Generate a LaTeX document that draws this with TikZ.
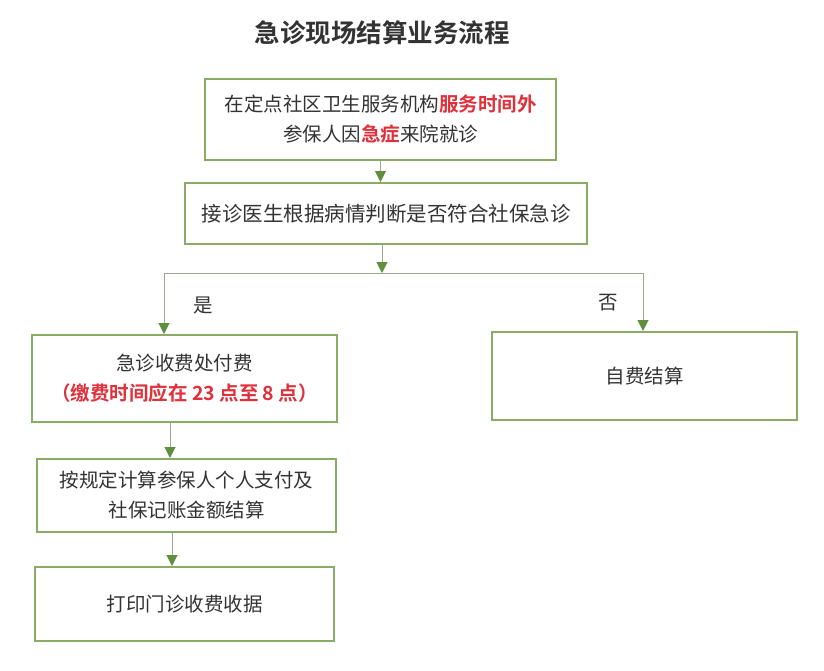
\documentclass[tikz,border=0pt]{standalone}
\usepackage{fontspec}
\setmainfont{Noto Sans CJK SC}[BoldFont={Noto Sans CJK SC Bold}]
\usepackage{tikz}
\usetikzlibrary{arrows.meta,positioning}
\definecolor{boxgreen}{HTML}{8AAB63}
\definecolor{tipgreen}{HTML}{5F8F3E}
\definecolor{linegray}{HTML}{9AAA90}
\definecolor{textgray}{HTML}{333333}
\definecolor{alertred}{HTML}{E0303A}
\tikzset{
  flowbox/.style={draw=boxgreen, line width=2pt, align=center, fill=white,
    text=textgray, font=\fontsize{19.5}{30}\selectfont, inner sep=2pt},
  arr/.style={draw=linegray, line width=1pt,
    -{Triangle[length=11pt,width=11pt,color=tipgreen]}},
  plain/.style={draw=linegray, line width=1pt},
  branchlabel/.style={text=textgray, font=\fontsize{19.5}{24}\selectfont}
}
\newcommand{\hl}[1]{\textcolor{alertred}{\textbf{#1}}}

\begin{document}
\begin{tikzpicture}[x=1pt, y=-1pt]
  \useasboundingbox[fill=white] (0,0) rectangle (824,670);

  % title
  \node[text=textgray, font=\fontsize{25.5}{30}\selectfont\bfseries] (title) at (382,33)
    {急诊现场结算业务流程};

  % top chain
  \node[flowbox, minimum width=351pt, minimum height=81pt] (arrive) at (380.5,119.5)
    {在定点社区卫生服务机构\hl{服务时间外}\\参保人因\hl{急症}来院就诊};
  \node[flowbox, minimum width=402pt, minimum height=61pt, font=\fontsize{20.5}{30}\selectfont]
    (judge) at (386,213.5) {接诊医生根据病情判断是否符合社保急诊};

  \draw[arr] (arrive.south) -- (arrive.south |- judge.north);

  % branch
  \coordinate (split) at (382,273);
  \coordinate (yesturn) at (164,273);
  \draw[arr] (split |- judge.south) -- (split);

  \node[flowbox, minimum width=305pt, minimum height=87pt] (pay) at (184.5,378.5)
    {急诊收费处付费\\\hl{（缴费时间应在 23 点至 8 点）}};
  \node[flowbox, minimum width=305pt, minimum height=88pt] (selfpay) at (644.5,376)
    {自费结算};

  \draw[arr] (split) -- (yesturn) -- (yesturn |- pay.north);
  \draw[arr] (split) -| ([xshift=-1.5pt]selfpay.north);
  \node[branchlabel] (yes) at (203,305) {是};
  \node[branchlabel] (no) at (608,303) {否};

  % left column
  \node[flowbox, below=35pt of pay, xshift=2pt, minimum width=299pt, minimum height=73pt] (settle)
    {按规定计算参保人个人支付及\\社保记账金额结算};
  \node[flowbox, below=33pt of settle, xshift=-2pt, minimum width=299pt, minimum height=74pt] (receipt)
    {打印门诊收费收据};

  \draw[arr] ([xshift=-14.5pt]pay.south) -- ([xshift=-14.5pt]pay.south |- settle.north);
  \draw[arr] ([xshift=-14.5pt]settle.south) -- ([xshift=-14.5pt]settle.south |- receipt.north);
\end{tikzpicture}
\end{document}
